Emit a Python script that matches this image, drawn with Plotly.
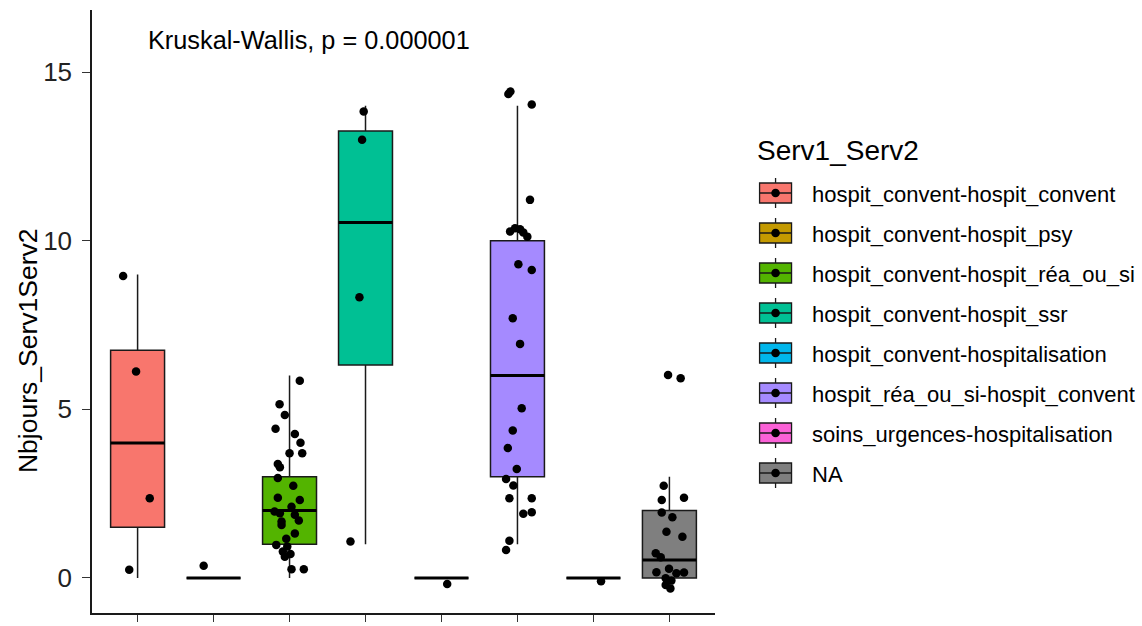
import plotly.graph_objects as go

# ---------------- data ----------------
categories = [
    "hospit_convent-hospit_convent",
    "hospit_convent-hospit_psy",
    "hospit_convent-hospit_réa_ou_si",
    "hospit_convent-hospit_ssr",
    "hospit_convent-hospitalisation",
    "hospit_réa_ou_si-hospit_convent",
    "soins_urgences-hospitalisation",
    "NA",
]
colors = ["#F8766D", "#C49A00", "#53B400", "#00C094", "#00B6EB", "#A58AFF", "#FB61D7", "#7F7F7F"]

box_q1 = [1.5, 0, 1, 6.31, 0, 3, 0, 0]
box_median = [4, 0, 2, 10.54, 0, 6, 0, 0.53]
box_q3 = [6.75, 0, 3, 13.25, 0, 10, 0, 2]
box_low = [0, 0, 0, 1, 0, 1, 0, 0]
box_high = [9, 0, 6, 14, 0, 14, 0, 3]

# jittered points (x jitter offset, y value) per group
g1_off = [-0.19, -0.02, 0.16, -0.11]
g1_val = [8.95, 6.12, 2.36, 0.24]
g2_off = [-0.13]
g2_val = [0.36]
g3_off = [0.135, -0.131, -0.062, -0.184, 0.070, 0.144, 0.0, 0.167, -0.154, -0.127,
          -0.154, 0.049, -0.154, 0.135, 0.026, -0.197, -0.127, 0.070, -0.105, 0.122,
          -0.105, 0.070, -0.043, -0.175, -0.030, -0.088, 0.013, -0.062, 0.026, 0.188]
g3_val = [5.85, 5.15, 4.83, 4.42, 4.27, 4.01, 3.70, 3.70, 3.38, 3.28,
          2.96, 2.73, 2.38, 2.31, 2.11, 1.97, 1.92, 1.87, 1.67, 1.70,
          1.57, 1.32, 1.16, 0.98, 0.93, 0.78, 0.71, 0.63, 0.26, 0.26]
g4_off = [-0.024, -0.045, -0.080, -0.198]
g4_val = [13.83, 12.99, 8.32, 1.08]
g5_off = [0.075]
g5_val = [-0.18]
g6_off = [-0.120, -0.093, 0.188, 0.165, -0.097, -0.032, 0.034, 0.077, 0.130, 0.012,
          0.188, -0.062, 0.034, 0.056, -0.062, -0.127, -0.009, -0.150, -0.054, -0.106,
          0.188, 0.077, 0.188, -0.106, -0.150]
g6_val = [14.35, 14.42, 14.04, 11.21, 10.27, 10.37, 10.34, 10.24, 10.12, 9.30,
          9.13, 7.70, 6.94, 5.03, 4.37, 3.85, 3.23, 2.93, 2.74, 2.36,
          2.36, 1.90, 1.95, 1.10, 0.83]
g7_off = [0.10]
g7_val = [-0.10]
g8_off = [-0.018, 0.148, -0.075, -0.101, 0.192, -0.101, 0.039, -0.039, 0.171, -0.180,
          -0.114, -0.171, -0.005, 0.092, 0.192, -0.049, 0.026, -0.049, 0.013]
g8_val = [6.02, 5.92, 2.73, 2.31, 2.38, 1.94, 1.80, 1.37, 1.22, 0.73,
          0.61, 0.17, 0.27, 0.14, 0.16, -0.01, -0.08, -0.21, -0.31]

y_ticks = [0, 5, 10, 15]
annotation_text = "Kruskal-Wallis, p = 0.000001"
legend_title = "Serv1_Serv2"
y_title = "Nbjours_Serv1Serv2"

point_offsets = [g1_off, g2_off, g3_off, g4_off, g5_off, g6_off, g7_off, g8_off]
point_values = [g1_val, g2_val, g3_val, g4_val, g5_val, g6_val, g7_val, g8_val]

# ---------------- layout geometry ----------------
FONT = "Liberation Sans, Arial, sans-serif"
W_FIG, H_FIG = 1142, 626
L, R, T, B = 92, 715.4, 10, 613
BOX_W = 0.71


def px_x(p):
    return (p - L) / (R - L)


def px_y(p):
    return (B - p) / (B - T)


fig = go.Figure()

positions = list(range(1, len(categories) + 1))

for i, cat in enumerate(categories):
    fig.add_trace(go.Box(
        x=[positions[i]], q1=[box_q1[i]], median=[box_median[i]], q3=[box_q3[i]],
        lowerfence=[box_low[i]], upperfence=[box_high[i]],
        width=BOX_W, whiskerwidth=0, fillcolor=colors[i],
        line=dict(color="#1a1a1a", width=1.5), boxpoints=False,
        showlegend=False, hoverinfo="skip", name=cat,
    ))

# thick median lines
for i, cat in enumerate(categories):
    fig.add_trace(go.Scatter(
        x=[positions[i] - BOX_W / 2, positions[i] + BOX_W / 2],
        y=[box_median[i], box_median[i]], mode="lines",
        line=dict(color="black", width=3), showlegend=False, hoverinfo="skip",
    ))

# jitter points
for i, cat in enumerate(categories):
    fig.add_trace(go.Scatter(
        x=[positions[i] + o for o in point_offsets[i]], y=point_values[i],
        mode="markers", marker=dict(color="black", size=8.5),
        showlegend=False, hoverinfo="skip",
    ))

# annotation (stat test)
fig.add_annotation(
    x=1.11, y=15.95, xref="x", yref="y", text=annotation_text, showarrow=False,
    xanchor="left", yanchor="middle", font=dict(family=FONT, size=25.3, color="black"),
)

# y-axis title
fig.add_annotation(
    x=px_x(28), y=px_y(351), xref="paper", yref="paper", text=y_title, showarrow=False,
    textangle=-90, xanchor="center", yanchor="middle",
    font=dict(family=FONT, size=26.5, color="black"),
)

# custom legend
shapes = []
fig.add_annotation(
    x=px_x(755), y=px_y(150), xref="paper", yref="paper", text=legend_title,
    showarrow=False, xanchor="left", yanchor="middle",
    font=dict(family=FONT, size=28, color="black"),
)
key_x0, key_x1 = 760, 792
key_cx = (key_x0 + key_x1) / 2
for i, cat in enumerate(categories):
    cy = 193 + 40 * i
    shapes.append(dict(type="line", xref="paper", yref="paper",
                       x0=px_x(key_cx), x1=px_x(key_cx), y0=px_y(cy - 15), y1=px_y(cy + 15),
                       line=dict(color="#1a1a1a", width=1.3)))
    shapes.append(dict(type="rect", xref="paper", yref="paper",
                       x0=px_x(key_x0), x1=px_x(key_x1), y0=px_y(cy - 10), y1=px_y(cy + 10),
                       fillcolor=colors[i], line=dict(color="#1a1a1a", width=1.3)))
    shapes.append(dict(type="line", xref="paper", yref="paper",
                       x0=px_x(key_x0), x1=px_x(key_x1), y0=px_y(cy), y1=px_y(cy),
                       line=dict(color="#1a1a1a", width=1.5)))
    shapes.append(dict(type="circle", xref="paper", yref="paper",
                       x0=px_x(key_cx - 4.3), x1=px_x(key_cx + 4.3),
                       y0=px_y(cy - 4.3), y1=px_y(cy + 4.3),
                       fillcolor="black", line=dict(color="black", width=0)))
    fig.add_annotation(
        x=px_x(810), y=px_y(cy + 1.5), xref="paper", yref="paper", text=cat,
        showarrow=False, xanchor="left", yanchor="middle",
        font=dict(family=FONT, size=22, color="black"),
    )

fig.update_layout(
    width=W_FIG, height=H_FIG,
    margin=dict(l=L, r=W_FIG - R, t=T, b=H_FIG - B, pad=0, autoexpand=False),
    paper_bgcolor="white", plot_bgcolor="white",
    boxmode="overlay", showlegend=False, shapes=shapes,
    font=dict(family=FONT, color="black"),
)
fig.update_xaxes(
    range=[0.4, 8.6], tickvals=positions, showticklabels=False,
    showline=True, linecolor="#1a1a1a", linewidth=1.5, ticks="outside", ticklen=7,
    tickwidth=1.3, tickcolor="#333333", showgrid=False, zeroline=False,
)
fig.update_yaxes(
    range=[-1.04, 16.84], tickvals=y_ticks, ticktext=[str(v) for v in y_ticks],
    showline=True, linecolor="#1a1a1a", linewidth=1.5, ticks="outside", ticklen=8,
    tickwidth=1.3, tickcolor="#333333", showgrid=False, zeroline=False,
    ticklabelstandoff=5,
    tickfont=dict(family=FONT, size=26, color="#222222"),
)

fig.write_html(
    "out.html",
    config={"displayModeBar": False},
    post_script="document.body.style.margin='0';document.body.style.overflow='hidden';",
)
